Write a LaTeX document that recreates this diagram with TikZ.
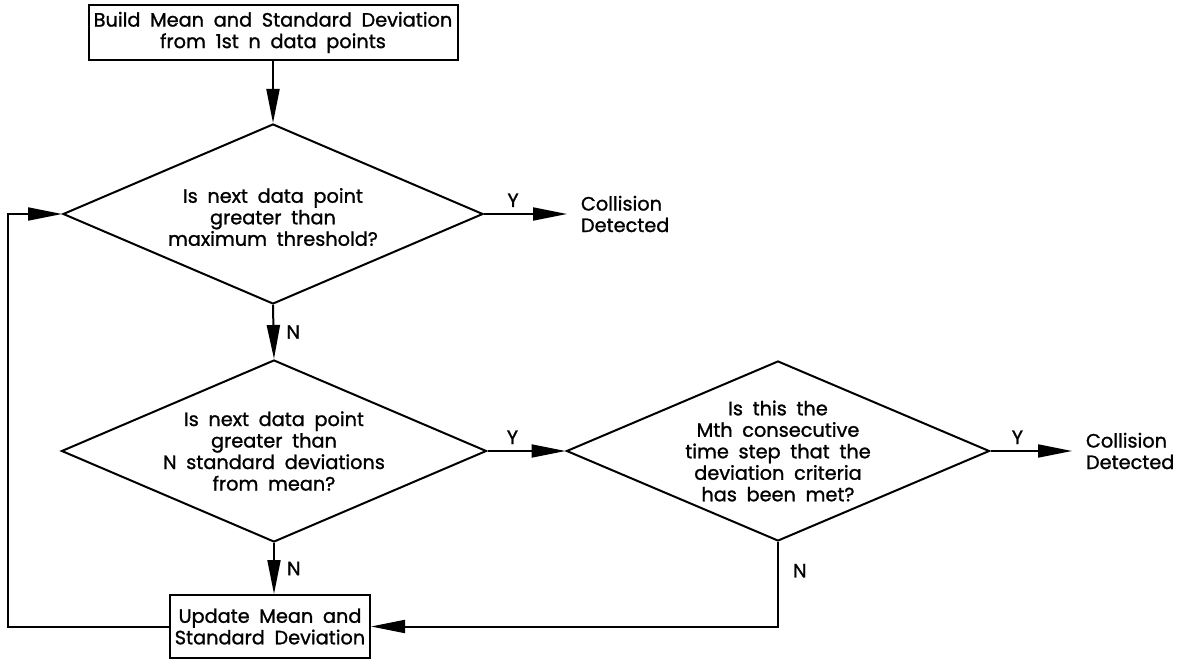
\documentclass[tikz,border=0pt]{standalone}
\usepackage{fontspec}
\setmainfont{Poppins}[BoldFont=Poppins, BoldFeatures={FakeBold=1.2}]
\usetikzlibrary{shapes.geometric,arrows.meta}
\newcommand{\cadtext}{\fontsize{19.3}{21.5}\selectfont\bfseries\spaceskip=0.5em\relax}
\begin{document}
\begin{tikzpicture}[x=1pt,y=-1pt,
  line width=2pt,
  every node/.style={font=\cadtext},
  flow/.style={-{Triangle[length=34pt,width=13pt]}},
  box/.style={draw, rectangle, inner sep=0pt, align=center},
  dia/.style={draw, diamond, inner sep=0pt},
  txt/.style={align=center, inner sep=0pt},
  outcome/.style={align=left, inner ysep=0pt, inner xsep=13pt, anchor=west},
  yn/.style={inner sep=0pt}
]
\useasboundingbox (0,0) rectangle (1178,660);

% process boxes
\node[box, minimum width=369pt, minimum height=55pt] (start) at (273,32.5)
  {Build Mean and Standard Deviation\\from 1st n data points};
\node[box, minimum width=200pt, minimum height=63pt] (upd) at (270,626.5)
  {Update Mean and\\Standard Deviation};

% decisions
\node[dia, minimum width=420pt, minimum height=180pt,
  label={[txt, yshift=-3pt]center:{Is next data point\\greater than\\maximum threshold?}}] (d1) at (273,214) {};
\node[dia, minimum width=425pt, minimum height=182pt,
  label={[txt]center:{Is next data point\\greater than\\N standard deviations\\from mean?}}] (d2) at (274,451) {};
\node[dia, minimum width=423pt, minimum height=180pt,
  label={[txt]center:{Is this the\\Mth consecutive\\time step that the\\deviation criteria\\has been met?}}] (d3) at (778,451) {};

% outcomes
\node[outcome] (c1) at (567,214) {Collision\\Detected};
\node[outcome] (c2) at (1072,451) {Collision\\Detected};

% connectors
\draw[flow] (start.south) -- (d1.north);
\draw[flow] (d1.east) -- node[yn, above=6pt, pos=0.35] {Y} (c1.west);
\draw[flow] (d1.south) -- node[yn, right=12pt] {N} (d2.north);
\draw[flow] (d2.east) -- node[yn, above=6pt, pos=0.32] {Y} (d3.west);
\draw[flow] (d3.east) -- node[yn, above=6pt, pos=0.33] {Y} (c2.west);
\draw[flow] (d2.south) -- node[yn, right=12pt] {N} (d2.south |- upd.north);
\draw[flow] (d3.south) |- node[yn, right=14pt, pos=0.17] {N} (upd.east);
\coordinate (loop) at (8,626.5);
\draw[flow] (upd.west) -- (loop) |- (d1.west);
\end{tikzpicture}
\end{document}
